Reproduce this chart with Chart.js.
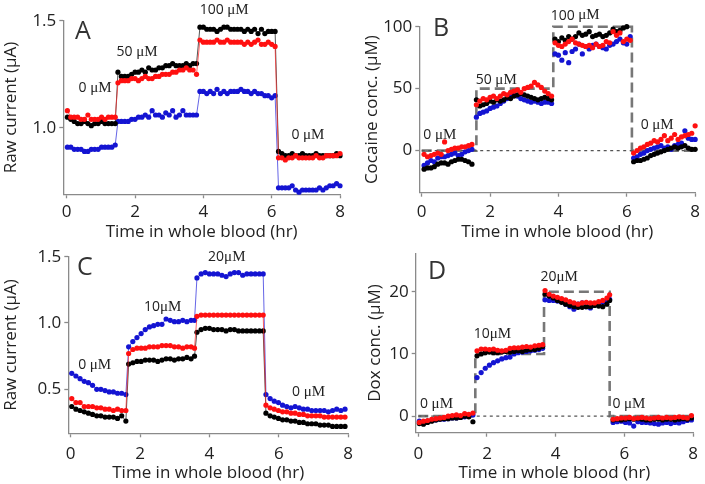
<!DOCTYPE html>
<html><head><meta charset="utf-8">
<script src="https://cdn.jsdelivr.net/npm/chart.js@4.4.0/dist/chart.umd.min.js"></script>
<style>
html,body{margin:0;padding:0;background:#fff;}
body{width:705px;height:484px;position:relative;overflow:hidden;}
canvas{position:absolute;}
</style></head><body>
<canvas id="cA" width="360" height="245" style="left:0;top:0"></canvas>
<canvas id="cB" width="355" height="245" style="left:350px;top:0"></canvas>
<canvas id="cC" width="360" height="244" style="left:0;top:240px"></canvas>
<canvas id="cD" width="355" height="244" style="left:350px;top:240px"></canvas>
<script>
// ---------- DATA ----------
const xTicks = [0, 2, 4, 6, 8];

// Panel A : raw current (µA), cocaine
const timeA = [0.02,0.12,0.22,0.32,0.42,0.52,0.62,0.72,0.82,0.92,1.02,1.12,1.22,1.32,1.42,
  1.5,1.6,1.7,1.8,1.9,2.0,2.1,2.2,2.3,2.4,2.5,2.6,2.7,2.8,2.9,3.0,3.1,3.2,3.3,3.4,3.5,3.6,3.7,3.8,
  3.9,4.0,4.1,4.2,4.3,4.4,4.5,4.6,4.7,4.8,4.9,5.0,5.1,5.2,5.3,5.4,5.5,5.6,5.7,5.8,5.9,6.0,6.1,
  6.2,6.3,6.4,6.5,6.6,6.7,6.8,6.9,7.0,7.1,7.2,7.3,7.4,7.5,7.6,7.7,7.8,7.9,8.0];
const blackA = [1.05,1.04,1.03,1.02,1.02,1.03,1.02,1.01,1.02,1.02,1.03,1.02,1.02,1.02,1.02,
  1.26,1.24,1.24,1.24,1.25,1.26,1.26,1.27,1.26,1.28,1.27,1.27,1.28,1.28,1.29,1.29,1.30,1.29,1.29,1.29,1.30,1.29,1.30,1.30,
  1.47,1.47,1.46,1.46,1.46,1.45,1.46,1.47,1.47,1.46,1.46,1.46,1.46,1.45,1.46,1.45,1.46,1.44,1.46,1.44,1.45,1.45,1.45,
  0.89,0.88,0.87,0.87,0.88,0.87,0.87,0.88,0.87,0.87,0.87,0.88,0.87,0.87,0.87,0.87,0.87,0.88,0.87];
const redA = [1.08,1.05,1.05,1.05,1.04,1.04,1.06,1.04,1.04,1.04,1.05,1.04,1.05,1.05,1.05,
  1.21,1.22,1.22,1.22,1.23,1.23,1.22,1.23,1.24,1.23,1.23,1.24,1.24,1.25,1.25,1.25,1.26,1.26,1.27,1.27,1.28,1.27,1.27,1.25,
  1.41,1.40,1.40,1.40,1.40,1.41,1.40,1.40,1.41,1.40,1.40,1.40,1.40,1.39,1.40,1.39,1.40,1.41,1.39,1.39,1.40,1.39,1.38,
  0.86,0.86,0.85,0.86,0.86,0.87,0.86,0.86,0.86,0.86,0.86,0.87,0.86,0.86,0.87,0.87,0.87,0.87,0.88];
const blueA = [0.91,0.91,0.90,0.90,0.90,0.89,0.89,0.90,0.90,0.90,0.91,0.91,0.91,0.91,0.92,
  1.03,1.03,1.03,1.03,1.04,1.04,1.05,1.05,1.06,1.05,1.08,1.06,1.06,1.05,1.07,1.06,1.08,1.05,1.06,1.08,1.06,1.06,1.06,1.06,
  1.17,1.17,1.16,1.17,1.16,1.18,1.16,1.17,1.16,1.17,1.17,1.17,1.18,1.17,1.17,1.16,1.17,1.16,1.16,1.15,1.15,1.14,1.15,
  0.72,0.72,0.72,0.72,0.73,0.71,0.70,0.71,0.71,0.71,0.71,0.71,0.72,0.71,0.72,0.73,0.73,0.74,0.73];
const yTicksA = [1.0, 1.5];
const notesA = ['A', '0 μM', '50 μM', '100 μM', '0 μM'];

// Panel B : cocaine concentration (µM)
const timeB = [0.07,0.17,0.27,0.37,0.47,0.57,0.67,0.77,0.87,0.97,1.07,1.17,1.27,1.37,1.47,
  1.6,1.7,1.8,1.9,2.0,2.1,2.2,2.3,2.4,2.5,2.6,2.7,2.8,2.9,3.0,3.1,3.2,3.3,3.4,3.5,3.6,3.7,3.8,
  3.9,4.0,4.1,4.2,4.3,4.4,4.5,4.6,4.7,4.8,4.9,5.0,5.1,5.2,5.3,5.4,5.5,5.6,5.7,5.8,5.9,6.0,6.1,
  6.2,6.3,6.4,6.5,6.6,6.7,6.8,6.9,7.0,7.1,7.2,7.3,7.4,7.5,7.6,7.7,7.8,7.9,8.0];
const blackB = [-15,-14,-14,-13,-11,-10,-10,-11,-9,-8,-7,-7,-8,-9,-11,
  41,36,37,38,40,39,41,40,41,43,42,44,45,46,45,44,43,42,41,42,43,42,41,
  90,88,91,89,92,90,92,95,93,94,96,92,93,94,92,93,95,98,96,97,99,100,105,
  -9,-8,-8,-7,-6,-4,-3,-2,-1,0,1,2,3,2,3,4,2,1,1];
const redB = [-3,-5,-4,-3,-2,-3,7,0,1,2,2,3,3,4,5,
  37,40,42,41,43,44,42,44,46,45,47,48,49,47,50,51,52,55,53,51,48,46,44,
  87,85,84,86,88,90,87,86,85,84,85,83,86,84,85,88,87,96,93,95,88,90,89,
  -2,0,2,3,5,6,8,7,9,12,8,10,13,9,11,12,13,14,20];
const blueB = [-12,-10,-8,-9,-6,-5,-5,-4,-3,-2,-4,-3,-1,0,1,
  27,30,31,32,34,35,36,38,40,42,44,45,44,42,41,40,39,40,39,38,39,39,38,
  78,77,73,79,71,80,82,86,78,84,82,85,86,84,83,82,85,86,88,90,87,86,92,
  -6,-5,-3,-2,0,1,2,3,4,2,3,1,4,5,6,16,10,9,9];
const stepTimeB = [0, 1.6, 3.85, 6.15, 8];
const stepLevelB = [0, 50, 100, 0, 0];
const yTicksB = [0, 50, 100];
const notesB = ['B', '0 μM', '50 μM', '100 μM', '0 μM'];

// Panel C : raw current (µA), doxorubicin
const timeC = [0.03,0.15,0.27,0.39,0.51,0.63,0.75,0.87,0.99,1.11,1.23,1.35,1.47,1.59,
  1.67,1.79,1.91,2.03,2.15,2.27,2.39,2.51,2.63,2.75,2.87,2.99,3.11,3.23,3.35,3.47,3.57,
  3.64,3.76,3.88,4.0,4.12,4.24,4.36,4.48,4.6,4.72,4.84,4.96,5.08,5.2,5.32,5.44,5.55,
  5.63,5.75,5.87,5.99,6.11,6.23,6.35,6.47,6.59,6.71,6.83,6.95,7.07,7.19,7.31,7.43,7.55,7.67,7.79,7.91];
const blackC = [0.37,0.35,0.34,0.33,0.32,0.31,0.30,0.30,0.29,0.29,0.29,0.28,0.30,0.26,
  0.69,0.70,0.71,0.71,0.72,0.72,0.72,0.71,0.72,0.73,0.73,0.72,0.73,0.73,0.74,0.73,0.75,
  0.93,0.95,0.96,0.96,0.95,0.95,0.95,0.94,0.95,0.95,0.94,0.94,0.94,0.94,0.94,0.94,0.94,
  0.32,0.30,0.29,0.28,0.27,0.27,0.26,0.26,0.25,0.25,0.24,0.24,0.24,0.23,0.23,0.23,0.22,0.22,0.22,0.22];
const redC = [0.43,0.40,0.40,0.37,0.37,0.37,0.36,0.36,0.35,0.35,0.34,0.35,0.34,0.34,
  0.77,0.80,0.81,0.81,0.81,0.82,0.82,0.82,0.83,0.83,0.83,0.82,0.82,0.81,0.82,0.82,0.81,
  1.05,1.06,1.06,1.06,1.06,1.06,1.06,1.06,1.06,1.06,1.06,1.06,1.06,1.06,1.06,1.06,1.06,
  0.38,0.36,0.35,0.34,0.33,0.33,0.32,0.32,0.31,0.31,0.30,0.30,0.30,0.30,0.29,0.29,0.29,0.29,0.29,0.29];
const blueC = [0.62,0.60,0.58,0.56,0.55,0.53,0.50,0.50,0.49,0.48,0.48,0.47,0.47,0.46,
  0.82,0.86,0.89,0.92,0.95,0.97,0.98,0.99,0.99,1.03,1.02,1.01,1.01,1.02,1.01,1.02,1.02,
  1.34,1.37,1.38,1.37,1.37,1.37,1.36,1.35,1.37,1.38,1.38,1.36,1.37,1.37,1.37,1.37,1.37,
  0.46,0.43,0.41,0.40,0.38,0.37,0.36,0.37,0.36,0.35,0.35,0.34,0.34,0.34,0.34,0.33,0.34,0.35,0.34,0.35];
const yTicksC = [0.5, 1.0, 1.5];
const notesC = ['C', '0 μM', '10μM', '20μM', '0 μM'];

// Panel D : doxorubicin concentration (µM)
const timeD = [0.03,0.15,0.27,0.39,0.51,0.63,0.75,0.87,0.99,1.11,1.23,1.35,1.47,1.59,
  1.71,1.83,1.95,2.07,2.19,2.31,2.43,2.55,2.67,2.79,2.91,3.03,3.15,3.27,3.39,3.51,3.62,
  3.69,3.81,3.93,4.05,4.17,4.29,4.41,4.53,4.65,4.77,4.89,5.01,5.13,5.25,5.37,5.49,5.57,
  5.67,5.79,5.91,6.03,6.15,6.27,6.39,6.51,6.63,6.75,6.87,6.99,7.11,7.23,7.35,7.47,7.59,7.71,7.83,7.95];
const blackD = [-1.2,-1.3,-1.0,-0.8,-0.6,-0.5,-0.4,-0.4,-0.3,-0.3,-0.2,0.0,-0.1,-0.9,
  9.7,10.0,10.2,10.3,10.2,10.2,10.3,10.4,10.3,10.4,10.5,10.4,10.6,10.7,10.7,10.9,11.2,
  19.6,19.3,19.0,18.6,18.3,18.0,17.8,17.6,17.5,17.5,17.6,17.6,17.8,17.7,17.6,18.0,18.6,
  -0.6,-0.5,-0.6,-0.5,-0.4,-0.5,-0.4,-0.5,-0.6,-0.6,-0.5,-0.5,-0.6,-0.5,-0.5,-0.6,-0.5,-0.4,-0.5,-0.3];
const redD = [-1.0,-0.8,-0.7,-0.5,-0.4,-0.3,-0.2,0.0,0.1,0.2,0.1,0.4,0.3,0.5,
  10.5,10.8,10.8,10.7,10.8,10.6,10.5,10.6,10.9,11.0,11.0,11.1,11.2,11.1,11.3,11.4,11.5,
  20.2,19.6,19.3,19.1,18.9,18.7,18.4,18.2,18.0,18.2,18.3,18.2,18.2,18.4,18.6,19.0,19.5,
  -0.5,-0.4,-0.3,-0.3,-0.2,-0.4,-0.3,-0.2,-0.3,-0.4,-0.3,-0.2,-0.3,-0.2,-0.3,-0.2,-0.1,-0.2,-0.3,0.1];
const blueD = [-0.8,-0.9,-0.8,-0.7,-0.6,-0.5,-0.5,-0.4,-0.3,-0.3,-0.2,-0.1,0.0,0.2,
  6.2,7.0,7.7,8.2,8.6,8.9,9.2,9.4,9.5,10.0,10.2,10.3,10.4,10.5,10.6,10.7,10.9,
  18.7,18.6,18.6,18.5,18.4,18.0,17.6,17.2,18.0,18.2,17.6,17.4,17.9,18.1,18.3,18.4,18.8,
  -1.0,-0.9,-0.8,-1.0,-1.1,-1.6,-0.9,-1.0,-1.0,-1.1,-1.2,-1.3,-1.1,-1.0,-1.2,-1.0,-1.1,-0.9,-0.7,-0.6];
const stepTimeD = [0, 1.66, 3.66, 5.57, 8];
const stepLevelD = [0, 10, 20, 0, 0];
const yTicksD = [0, 10, 20];
const notesD = ['D', '0 μM', '10μM', '20μM', '0 μM'];

const zeroTime = [0, 8];
const zeroLevel = [0, 0];

// ---------- STYLE / LAYOUT ----------
const COL = {black: '#000000', red: '#ff1010', blue: '#1414d2'};
const LINECOL = {black: 'rgba(0,0,0,0.75)', red: 'rgba(255,40,40,0.8)', blue: 'rgba(40,40,220,0.8)'};
const FONT = "'Open Sans', 'DejaVu Sans', sans-serif";
const AXIS = '#8a8a8a';
const TEXT = '#222';

Chart.defaults.font.family = FONT;
Chart.defaults.animation = false;

const pts = (xs, ys) => xs.map((x, i) => ({x, y: ys[i]}));

const annot = {
  id: 'annot',
  afterDraw(chart, args, opts) {
    const {ctx} = chart, xs = chart.scales.x, ys = chart.scales.y;
    ctx.save();
    ctx.fillStyle = TEXT;
    ctx.textBaseline = 'middle';
    opts.texts.forEach((t, i) => {
      const px = xs.getPixelForValue(opts.pos[i][0]);
      const py = ys.getPixelForValue(opts.pos[i][1]);
      if (i === 0) {
        ctx.font = '25px ' + FONT; ctx.textAlign = 'left'; ctx.fillStyle = '#333';
        ctx.fillText(t, px, py); ctx.fillStyle = TEXT; return;
      }
      const m = t.match(/^(.*?)(μM)$/);
      const f1 = '14px ' + FONT, f2 = "15px 'Liberation Serif', 'DejaVu Serif', serif";
      ctx.font = f1; const w1 = ctx.measureText(m[1]).width;
      ctx.font = f2; const w2 = ctx.measureText(m[2]).width;
      const sx = px - (w1 + w2) / 2;
      ctx.textAlign = 'left';
      ctx.font = f1; ctx.fillText(m[1], sx, py);
      ctx.font = f2; ctx.fillText(m[2], sx + w1, py);
    });
    ctx.restore();
  }
};

function makePanel(id, p) {
  const ds = [];
  p.series.forEach(([key, vals], k) => {
    ds.push({
      data: pts(p.time, vals), showLine: p.lines, borderColor: LINECOL[key], borderWidth: 0.9,
      backgroundColor: COL[key], pointBackgroundColor: COL[key], pointRadius: 2.6, pointBorderWidth: 0,
      pointHoverRadius: 2.6, clip: false, order: 1 + (2 - k) * 0.1
    });
  });
  if (p.step) {
    ds.push({data: pts(p.step[0], p.step[1]), showLine: true, stepped: 'before', borderColor: '#777',
      borderWidth: 2.6, borderDash: [10, 5], pointRadius: 0, order: 5, clip: false});
    ds.push({data: pts(zeroTime, zeroLevel), showLine: true, borderColor: '#555', borderWidth: 1.2,
      borderDash: [3, 3.5], pointRadius: 0, order: 4});
  }
  const L = p.layout;
  const axisCommon = {
    border: {color: AXIS, width: 1.3},
    grid: {display: true, drawOnChartArea: false, drawTicks: true, tickLength: 4, tickColor: AXIS, tickWidth: 1.3, color: AXIS},
  };
  new Chart(document.getElementById(id), {
    type: 'scatter',
    data: {datasets: ds},
    options: {
      responsive: false, devicePixelRatio: 1, animation: false,
      layout: {padding: {left: 0, top: L.top, right: L.right, bottom: 0}},
      plugins: {legend: {display: false}, tooltip: {enabled: false},
        annot: {texts: p.notes, pos: L.notePos}},
      scales: {
        x: Object.assign({}, axisCommon, {
          type: 'linear', min: L.xmin, max: 8,
          afterBuildTicks: s => { s.ticks = xTicks.map(v => ({value: v})); },
          afterFit: s => { s.height = L.xh; },
          ticks: {color: TEXT, font: {size: 17}, padding: L.xpad, maxRotation: 0},
          title: {display: true, text: 'Time in whole blood (hr)', color: TEXT, font: {size: 17}, padding: {top: 0, bottom: L.xtp}}
        }),
        y: Object.assign({}, axisCommon, {
          type: 'linear', min: L.ymin, max: L.ymax,
          afterBuildTicks: s => { s.ticks = p.yTicks.map(v => ({value: v})); },
          afterFit: s => { s.width = L.yw; },
          ticks: {color: TEXT, font: {size: 17}, padding: 3, callback: p.fmt},
          title: {display: true, text: p.ytitle, color: TEXT, font: {size: 17}, padding: {top: L.ytp, bottom: 0}}
        })
      }
    },
    plugins: [annot]
  });
}

const f1 = v => v.toFixed(1);
const f0 = v => String(v);

makePanel('cA', {
  time: timeA, series: [['blue', blueA], ['black', blackA], ['red', redA]], lines: true,
  yTicks: yTicksA, fmt: f1, ytitle: 'Raw current (μA)', notes: notesA,
  layout: {top: 20.7, right: 20, xh: 50.7, yw: 63.3, xmin: -0.1, ymin: 0.69, ymax: 1.5, xtp: 3, xpad: 4, ytp: 1,
    notePos: [[0.24, 1.45], [0.83, 1.185], [2.06, 1.354], [4.61, 1.55], [7.06, 0.966]]}
});
makePanel('cB', {
  time: timeB, series: [['blue', blueB], ['black', blackB], ['red', redB]], lines: false,
  step: [stepTimeB, stepLevelB],
  yTicks: yTicksB, fmt: f0, ytitle: 'Cocaine conc. (μM)', notes: notesB,
  layout: {top: 26.7, right: 6.7, xh: 52.3, yw: 69.3, xmin: -0.07, ymin: -34, ymax: 100, xtp: 3, xpad: 5, ytp: 12,
    notePos: [[0.33, 98], [0.53, 12.7], [2.18, 57], [4.49, 109], [6.89, 20.7]]}
});
makePanel('cC', {
  time: timeC, series: [['blue', blueC], ['black', blackC], ['red', redC]], lines: true,
  yTicks: yTicksC, fmt: f1, ytitle: 'Raw current (μA)', notes: notesC,
  layout: {top: 16.7, right: 8, xh: 50.7, yw: 68.3, xmin: -0.07, ymin: 0.168, ymax: 1.5, xtp: 0.5, xpad: 7, ytp: 1,
    notePos: [[0.18, 1.417], [0.69, 0.683], [2.65, 1.12], [4.5, 1.5], [6.86, 0.48]]}
});
makePanel('cD', {
  time: timeD, series: [['blue', blueD], ['black', blackD], ['red', redD]], lines: false,
  step: [stepTimeD, stepLevelD],
  yTicks: yTicksD, fmt: f0, ytitle: 'Dox conc. (μM)', notes: notesD,
  layout: {top: 8, right: 6.7, xh: 51.3, yw: 65.7, xmin: -0.075, ymin: -2.66, ymax: 26.2, xtp: 0.5, xpad: 7, ytp: 15,
    notePos: [[0.28, 23.2], [0.53, 2.0], [2.16, 13.2], [4.1, 22.3], [6.13, 2.0]]}
});
</script>
</body></html>
